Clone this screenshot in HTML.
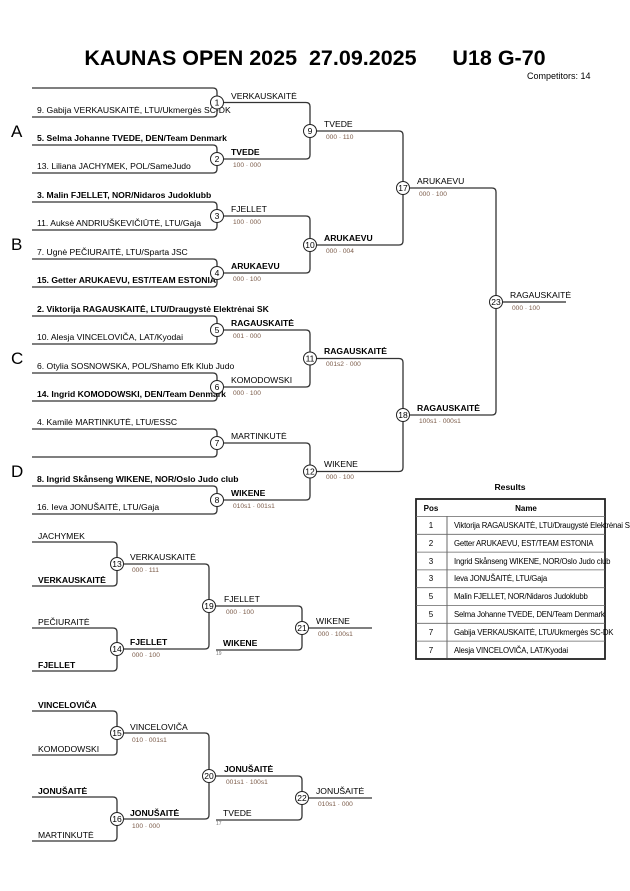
<!DOCTYPE html>
<html><head><meta charset="utf-8"><style>
html,body{margin:0;padding:0;background:#fff;}
svg{display:block;font-family:"Liberation Sans",Arial,sans-serif;}
.n{font-size:8.6px;fill:#000;}
.b{font-weight:bold;}
.s{font-size:6.6px;fill:#7a5a48;}
.c{font-size:8.5px;text-anchor:middle;}
path{fill:none;stroke:#333;stroke-width:1.3;}
circle{fill:#fff;stroke:#222;stroke-width:1;}
</style></head><body>
<svg width="630" height="891" viewBox="0 0 630 891">
<text x="315" y="65" text-anchor="middle" font-size="21.5" font-weight="bold" xml:space="preserve">KAUNAS OPEN 2025  27.09.2025      U18 G-70</text>
<text x="527" y="79" font-size="9">Competitors: 14</text>
<g font-size="17">
<text x="11" y="137">A</text><text x="11" y="250">B</text><text x="11" y="364">C</text><text x="11" y="477">D</text>
</g>

<path d="M32 88H213Q217 88 217 92V113Q217 117 213 117H32"/>
<path d="M32 145H213Q217 145 217 149V169Q217 173 213 173H32"/>
<path d="M32 202H213Q217 202 217 206V226Q217 230 213 230H32"/>
<path d="M32 259H213Q217 259 217 263V283Q217 287 213 287H32"/>
<path d="M32 316H213Q217 316 217 320V340Q217 344 213 344H32"/>
<path d="M32 373H213Q217 373 217 377V397Q217 401 213 401H32"/>
<path d="M32 429H213Q217 429 217 433V453Q217 457 213 457H32"/>
<path d="M32 486H213Q217 486 217 490V510Q217 514 213 514H32"/>
<path d="M217 102.5H306Q310 102.5 310 106.5V155Q310 159 306 159H217"/>
<path d="M217 216H306Q310 216 310 220V269Q310 273 306 273H217"/>
<path d="M217 330H306Q310 330 310 334V383Q310 387 306 387H217"/>
<path d="M217 443H306Q310 443 310 447V496Q310 500 306 500H217"/>
<path d="M310 131H399Q403 131 403 135V241Q403 245 399 245H310"/>
<path d="M310 358.5H399Q403 358.5 403 362.5V467.5Q403 471.5 399 471.5H310"/>
<path d="M403 188H492Q496 188 496 192V411Q496 415 492 415H403"/>
<path d="M496 302H566" style="stroke:#777;stroke-width:2"/>

<text class="n" x="37" y="113">9. Gabija VERKAUSKAITĖ, LTU/Ukmergės SC-DK</text>
<text class="n b" x="37" y="141">5. Selma Johanne TVEDE, DEN/Team Denmark</text>
<text class="n" x="37" y="169">13. Liliana JACHYMEK, POL/SameJudo</text>
<text class="n b" x="37" y="198">3. Malin FJELLET, NOR/Nidaros Judoklubb</text>
<text class="n" x="37" y="226">11. Auksė ANDRIUŠKEVIČIŪTĖ, LTU/Gaja</text>
<text class="n" x="37" y="255">7. Ugnė PEČIURAITĖ, LTU/Sparta JSC</text>
<text class="n b" x="37" y="283">15. Getter ARUKAEVU, EST/TEAM ESTONIA</text>
<text class="n b" x="37" y="312">2. Viktorija RAGAUSKAITĖ, LTU/Draugystė Elektrėnai SK</text>
<text class="n" x="37" y="340">10. Alesja VINCELOVIČA, LAT/Kyodai</text>
<text class="n" x="37" y="369">6. Otylia SOSNOWSKA, POL/Shamo Efk Klub Judo</text>
<text class="n b" x="37" y="397">14. Ingrid KOMODOWSKI, DEN/Team Denmark</text>
<text class="n" x="37" y="425">4. Kamilė MARTINKUTĖ, LTU/ESSC</text>
<text class="n b" x="37" y="482">8. Ingrid Skånseng WIKENE, NOR/Oslo Judo club</text>
<text class="n" x="37" y="510">16. Ieva JONUŠAITĖ, LTU/Gaja</text>

<text class="n" x="231" y="99">VERKAUSKAITĖ</text>
<text class="n b" x="231" y="155">TVEDE</text><text class="s" x="233" y="167">100 · 000</text>
<text class="n" x="231" y="212">FJELLET</text><text class="s" x="233" y="224">100 · 000</text>
<text class="n b" x="231" y="269">ARUKAEVU</text><text class="s" x="233" y="281">000 · 100</text>
<text class="n b" x="231" y="326">RAGAUSKAITĖ</text><text class="s" x="233" y="338">001 · 000</text>
<text class="n" x="231" y="383">KOMODOWSKI</text><text class="s" x="233" y="395">000 · 100</text>
<text class="n" x="231" y="439">MARTINKUTĖ</text>
<text class="n b" x="231" y="496">WIKENE</text><text class="s" x="233" y="508">010s1 · 001s1</text>
<text class="n" x="324" y="127">TVEDE</text><text class="s" x="326" y="139">000 · 110</text>
<text class="n b" x="324" y="241">ARUKAEVU</text><text class="s" x="326" y="253">000 · 004</text>
<text class="n b" x="324" y="354">RAGAUSKAITĖ</text><text class="s" x="326" y="366">001s2 · 000</text>
<text class="n" x="324" y="467">WIKENE</text><text class="s" x="326" y="479">000 · 100</text>
<text class="n" x="417" y="184">ARUKAEVU</text><text class="s" x="419" y="196">000 · 100</text>
<text class="n b" x="417" y="411">RAGAUSKAITĖ</text><text class="s" x="419" y="423">100s1 · 000s1</text>
<text class="n" x="510" y="298">RAGAUSKAITĖ</text><text class="s" x="512" y="310">000 · 100</text>

<g>
<circle cx="217" cy="102.5" r="6.5"/><text class="c" x="217" y="105.5">1</text>
<circle cx="217" cy="159" r="6.5"/><text class="c" x="217" y="162">2</text>
<circle cx="217" cy="216" r="6.5"/><text class="c" x="217" y="219">3</text>
<circle cx="217" cy="273" r="6.5"/><text class="c" x="217" y="276">4</text>
<circle cx="217" cy="330" r="6.5"/><text class="c" x="217" y="333">5</text>
<circle cx="217" cy="387" r="6.5"/><text class="c" x="217" y="390">6</text>
<circle cx="217" cy="443" r="6.5"/><text class="c" x="217" y="446">7</text>
<circle cx="217" cy="500" r="6.5"/><text class="c" x="217" y="503">8</text>
<circle cx="310" cy="131" r="6.5"/><text class="c" x="310" y="134">9</text>
<circle cx="310" cy="245" r="6.5"/><text class="c" x="310" y="248">10</text>
<circle cx="310" cy="358.5" r="6.5"/><text class="c" x="310" y="361.5">11</text>
<circle cx="310" cy="471.5" r="6.5"/><text class="c" x="310" y="474.5">12</text>
<circle cx="403" cy="188" r="6.5"/><text class="c" x="403" y="191">17</text>
<circle cx="403" cy="415" r="6.5"/><text class="c" x="403" y="418">18</text>
<circle cx="496" cy="302" r="6.5"/><text class="c" x="496" y="305">23</text>
</g>

<path d="M32 542H113Q117 542 117 546V582Q117 586 113 586H32"/>
<path d="M32 628H113Q117 628 117 632V667Q117 671 113 671H32"/>
<path d="M117 564H205Q209 564 209 568V645Q209 649 205 649H117"/>
<path d="M209 606H298Q302 606 302 610V646Q302 650 298 650H216"/>
<path d="M302 628H372"/>
<path d="M32 711H113Q117 711 117 715V751Q117 755 113 755H32"/>
<path d="M32 797H113Q117 797 117 801V837Q117 841 113 841H32"/>
<path d="M117 733H205Q209 733 209 737V815Q209 819 205 819H117"/>
<path d="M209 776H298Q302 776 302 780V816Q302 820 298 820H216"/>
<path d="M302 798H372"/>

<text class="n" x="38" y="539">JACHYMEK</text>
<text class="n b" x="38" y="583">VERKAUSKAITĖ</text>
<text class="n" x="38" y="625">PEČIURAITĖ</text>
<text class="n b" x="38" y="668">FJELLET</text>
<text class="n" x="130" y="560">VERKAUSKAITĖ</text><text class="s" x="132" y="572">000 · 111</text>
<text class="n b" x="130" y="645">FJELLET</text><text class="s" x="132" y="657">000 · 100</text>
<text class="n" x="224" y="602">FJELLET</text><text class="s" x="226" y="614">000 · 100</text>
<text class="n b" x="223" y="646">WIKENE</text><text x="216" y="655" font-size="5" fill="#777">19</text>
<text class="n" x="316" y="624">WIKENE</text><text class="s" x="318" y="636">000 · 100s1</text>

<text class="n b" x="38" y="708">VINCELOVIČA</text>
<text class="n" x="38" y="752">KOMODOWSKI</text>
<text class="n b" x="38" y="794">JONUŠAITĖ</text>
<text class="n" x="38" y="838">MARTINKUTĖ</text>
<text class="n" x="130" y="730">VINCELOVIČA</text><text class="s" x="132" y="742">010 · 001s1</text>
<text class="n b" x="130" y="816">JONUŠAITĖ</text><text class="s" x="132" y="828">100 · 000</text>
<text class="n b" x="224" y="772">JONUŠAITĖ</text><text class="s" x="226" y="784">001s1 · 100s1</text>
<text class="n" x="223" y="816">TVEDE</text><text x="216" y="825" font-size="5" fill="#777">17</text>
<text class="n" x="316" y="794">JONUŠAITĖ</text><text class="s" x="318" y="806">010s1 · 000</text>

<g>
<circle cx="117" cy="564" r="6.5"/><text class="c" x="117" y="567">13</text>
<circle cx="117" cy="649" r="6.5"/><text class="c" x="117" y="652">14</text>
<circle cx="209" cy="606" r="6.5"/><text class="c" x="209" y="609">19</text>
<circle cx="302" cy="628" r="6.5"/><text class="c" x="302" y="631">21</text>
<circle cx="117" cy="733" r="6.5"/><text class="c" x="117" y="736">15</text>
<circle cx="117" cy="819" r="6.5"/><text class="c" x="117" y="822">16</text>
<circle cx="209" cy="776" r="6.5"/><text class="c" x="209" y="779">20</text>
<circle cx="302" cy="798" r="6.5"/><text class="c" x="302" y="801">22</text>
</g>

<text x="510" y="490" font-size="8.6" font-weight="bold" text-anchor="middle">Results</text>
<g font-size="8" >
<rect x="416" y="499" width="189" height="160" fill="none" stroke="#222" stroke-width="1.8"/>
<line x1="447" y1="516" x2="447" y2="659" stroke="#444" stroke-width="0.8"/>
<g stroke="#666" stroke-width="0.8">
<line x1="416" y1="516.5" x2="605" y2="516.5"/>
<line x1="416" y1="534.3" x2="605" y2="534.3"/>
<line x1="416" y1="552.1" x2="605" y2="552.1"/>
<line x1="416" y1="569.9" x2="605" y2="569.9"/>
<line x1="416" y1="587.7" x2="605" y2="587.7"/>
<line x1="416" y1="605.5" x2="605" y2="605.5"/>
<line x1="416" y1="623.3" x2="605" y2="623.3"/>
<line x1="416" y1="641.1" x2="605" y2="641.1"/>
</g>
<text x="431" y="511" font-weight="bold" text-anchor="middle">Pos</text>
<text x="526" y="511" font-weight="bold" text-anchor="middle">Name</text>
<g text-anchor="middle"><text x="431" y="528">1</text><text x="431" y="546">2</text><text x="431" y="564">3</text><text x="431" y="581">3</text><text x="431" y="599">5</text><text x="431" y="617">5</text><text x="431" y="635">7</text><text x="431" y="653">7</text></g>
<g font-size="7.8" letter-spacing="-0.2">
<text x="454" y="528">Viktorija RAGAUSKAITĖ, LTU/Draugystė Elektrėnai SK</text>
<text x="454" y="546">Getter ARUKAEVU, EST/TEAM ESTONIA</text>
<text x="454" y="564">Ingrid Skånseng WIKENE, NOR/Oslo Judo club</text>
<text x="454" y="581">Ieva JONUŠAITĖ, LTU/Gaja</text>
<text x="454" y="599">Malin FJELLET, NOR/Nidaros Judoklubb</text>
<text x="454" y="617">Selma Johanne TVEDE, DEN/Team Denmark</text>
<text x="454" y="635">Gabija VERKAUSKAITĖ, LTU/Ukmergės SC-DK</text>
<text x="454" y="653">Alesja VINCELOVIČA, LAT/Kyodai</text>
</g>
</g>
</svg>
</body></html>
